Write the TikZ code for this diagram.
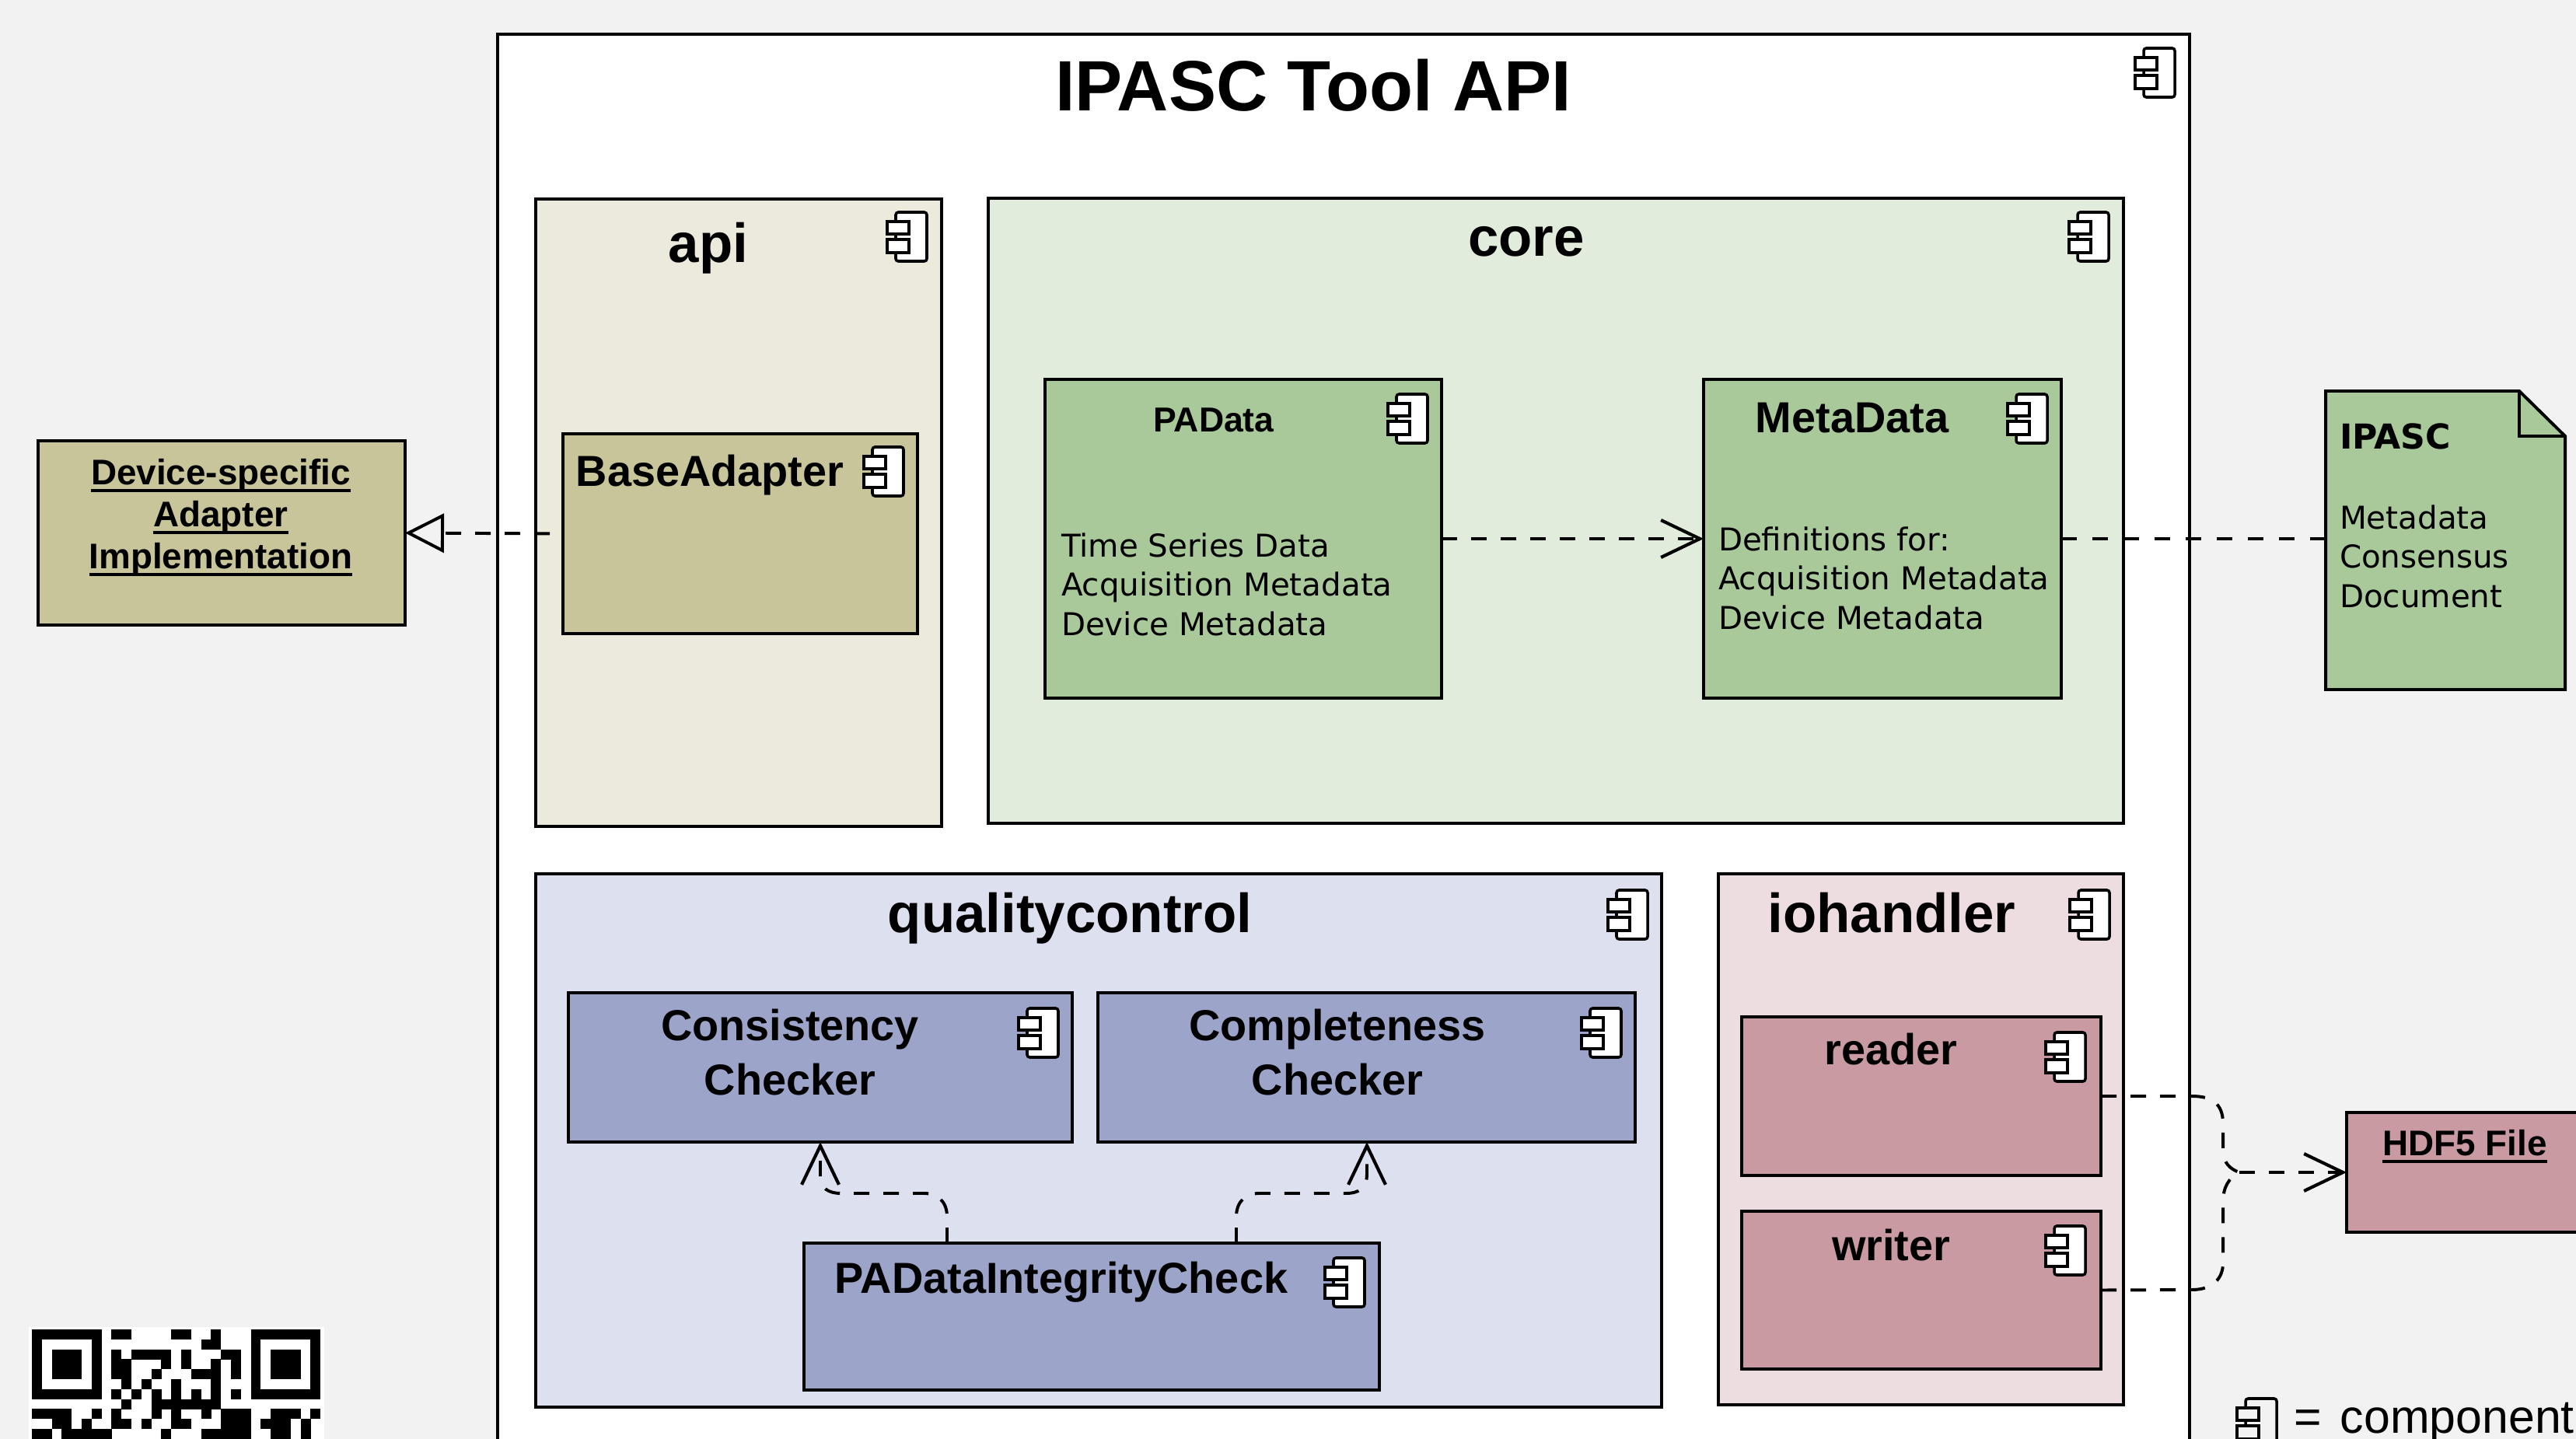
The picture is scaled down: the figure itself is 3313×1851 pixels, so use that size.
\documentclass[tikz,border=0pt]{standalone}
\usepackage{fontspec}
\setmainfont{Liberation Sans}
\newfontfamily\vfont{DejaVu Sans}
\usetikzlibrary{arrows.meta}
\definecolor{bgcol}{HTML}{F2F2F2}
\definecolor{apifill}{HTML}{ECEADC}
\definecolor{apiin}{HTML}{C9C59A}
\definecolor{corefill}{HTML}{E2ECDC}
\definecolor{corein}{HTML}{A9C99B}
\definecolor{qcfill}{HTML}{DDE0EE}
\definecolor{qcin}{HTML}{9CA4C9}
\definecolor{iofill}{HTML}{EDDCE0}
\definecolor{ioin}{HTML}{CA9AA2}
\newcommand\ulbox[1]{\setbox0\hbox{#1}\rlap{\rule[-2.5pt]{\wd0}{1pt}}\box0 }
\newcommand\stk[2]{\begin{tabular}[t]{@{}#1@{}}#2\end{tabular}}
\newcommand\cbox[6]{\node[boxbase,#1,anchor=north west,minimum width={(#5-#3)*.24pt},minimum height={(#6-#4)*.24pt}] (#2) at (#3,#4) {};}
\newcommand\icon[3][white]{\begin{scope}[shift={(#2,#3)}]
\draw[iconline,fill=#1,rounded corners=.8pt] (-40,0) rectangle (0,63);
\draw[iconline,fill=#1] (-51,12) rectangle (-23,28);
\draw[iconline,fill=#1] (-51,35) rectangle (-23,52);
\end{scope}}
\tikzset{
 boxbase/.style={draw=black,line width=.95pt,inner sep=0pt,outer sep=0pt},
 iconline/.style={draw=black,line width=.85pt},
 conn/.style={line width=.95pt,dash pattern=on 20*.24pt off 18*.24pt},
 barb/.style={-{Straight Barb[length=12pt,width=11.5pt,line width=1pt]}},
 lbl/.style={inner sep=0pt,outer sep=0pt,anchor=base,text=black},
 lblw/.style={lbl,anchor=base west},
 tmain/.style={lbl,font=\fontsize{22}{26}\selectfont\bfseries},
 tpkg/.style={lbl,font=\fontsize{17}{20}\selectfont\bfseries},
 tcomp/.style={lbl,font=\fontsize{13.4}{16.8}\selectfont\bfseries},
 tsmall/.style={lbl,font=\fontsize{10.7}{13}\selectfont\bfseries},
 tund/.style={lbl,font=\fontsize{11}{12.96}\selectfont\bfseries},
 tdesc/.style={lblw,font=\vfont\fontsize{9.7}{12.2}\selectfont},
}
\begin{document}
\begin{tikzpicture}[x=.24pt,y=-.24pt]
\useasboundingbox (0,0) rectangle (3313,1851);
\clip (0,0) rectangle (3313,1851);
\fill[bgcol] (0,0) rectangle (3313,1851);
% QR code
\fill[white] (37,1707) rectangle (417,1900);
\foreach \qx in {41,322.6}{
 \fill[black] (\qx,1710) rectangle ++(89.6,89.6);
 \fill[white] ({\qx+12.8},1722.8) rectangle ++(64,64);
 \fill[black] ({\qx+25.6},1735.6) rectangle ++(38.4,38.4);
}
\foreach \qr/\qcols in {0/{8,9,14,15,18},1/{17,18},2/{8,10,11,12,13,15,19,20},3/{8,9,13,15,18,20},4/{8,9,12,16,17,18,20},5/{9,11,14,18},6/{8,10,12,14,16,18,20},7/{9,12,13,14,15,16,17,18},8/{0,1,2,3,6,8,12,14,17,19,20,21,24,25,26,28},9/{2,3,5,8,9,11,14,15,19,20,21,23,24,25,27},10/{0,1,3,4,5,6,7,13,17,18,19,20,21,24,25,27}}{
 \foreach \qc in \qcols {\fill[black] ({41+12.8*\qc},{1710+12.8*\qr}) rectangle ++(12.9,12.9);}
}
% containers
\cbox{fill=white}{tool}{640}{44}{2816}{1900}
\node[tmain] (tooltitle) at (1689,142) {IPASC Tool API};
\icon{2797}{62}
\cbox{fill=apifill}{api}{689}{256}{1211}{1063}
\node[tpkg] (apititle) at (911,337) {api};
\icon{1192}{273}
\cbox{fill=corefill}{core}{1271}{255}{2731}{1059}
\node[tpkg] (coretitle) at (1963,329) {core};
\icon{2712}{273}
\cbox{fill=qcfill}{qc}{689}{1124}{2137}{1810}
\node[tpkg] (qctitle) at (1376,1199) {qualitycontrol};
\icon{2119}{1145}
\cbox{fill=iofill}{io}{2210}{1124}{2731}{1807}
\node[tpkg] (iotitle) at (2433,1199) {iohandler};
\icon{2713}{1145}
% inner components
\cbox{fill=apiin}{base}{724}{558}{1180}{815}
\node[tcomp] (basetitle) at (913,625) {BaseAdapter};
\icon{1162}{575}
\cbox{fill=corein}{pad}{1344}{488}{1854}{898}
\node[tsmall] (padtitle) at (1561,555) {PAData};
\node[tdesc] (padtext) at (1365,716) {\stk{l}{Time Series Data\\Acquisition Metadata\\Device Metadata}};
\icon{1836}{507}
\cbox{fill=corein}{meta}{2191}{488}{2651}{898}
\node[tcomp] (metatitle) at (2382,556) {MetaData};
\node[tdesc] (metatext) at (2210,708) {\stk{l}{Definitions for:\\Acquisition Metadata\\Device Metadata}};
\icon{2633}{507}
\cbox{fill=qcin}{cons}{731}{1277}{1379}{1469}
\node[tcomp] (constitle) at (1016,1338) {\stk{c}{Consistency\\Checker}};
\icon{1361}{1297}
\cbox{fill=qcin}{compl}{1412}{1277}{2103}{1469}
\node[tcomp] (compltitle) at (1720,1338) {\stk{c}{Completeness\\Checker}};
\icon{2085}{1297}
\cbox{fill=qcin}{integ}{1034}{1599}{1774}{1788}
\node[tcomp] (integtitle) at (1365,1663) {PADataIntegrityCheck};
\icon{1755}{1618}
\cbox{fill=ioin}{reader}{2240}{1308}{2702}{1512}
\node[tcomp] (readertitle) at (2432,1369) {reader};
\icon{2682}{1328}
\cbox{fill=ioin}{writer}{2240}{1558}{2702}{1761}
\node[tcomp] (writertitle) at (2432,1621) {writer};
\icon{2682}{1577}
% outside
\cbox{fill=apiin}{device}{49}{567}{521}{804}
\node[tund] (devicetitle) at (284,623) {\stk{c}{\ulbox{Device-specific}\\\ulbox{Adapter}\\\ulbox{Implementation}}};
\cbox{fill=ioin}{hdf}{3018}{1431}{3360}{1585}
\node[tund] (hdftitle) at (3170,1486) {\ulbox{HDF5 File}};
\node[inner sep=0pt,outer sep=0pt,anchor=north west,minimum width=73.92pt,minimum height=92.16pt] (ipasc) at (2991,503) {};
\draw[line width=.95pt,fill=corein,line join=miter] (2991,503) -- (3240,503) -- (3299,561) -- (3299,887) -- (2991,887) -- cycle;
\draw[line width=.95pt] (3240,503) -- (3240,561) -- (3299,561);
\node[lblw,font=\vfont\fontsize{10.6}{12}\selectfont\bfseries] (ipasctitle) at (3009,577) {IPASC};
\node[tdesc] (ipasctext) at (3009,680) {\stk{l}{Metadata\\Consensus\\Document}};
% legend
\icon[bgcol]{2928}{1799}
\node[lblw,font=\fontsize{14.6}{17}\selectfont] (legend) at (2950,1843) {=\hspace{.4em}component};
% connectors
\draw[conn,dash phase=21*.24pt,-{Triangle[open,length=12pt,width=12pt,fill=bgcol,line width=.95pt]}] (base.west) -- (device.east);
\draw[conn,barb] (pad.east) -- (meta.west);
\draw[conn,dash pattern=on 20*.24pt off 20*.24pt] (meta.east) -- (meta.east -| ipasc.west);
\coordinate (junc) at (2880,1508);
\draw[conn] (reader.east) -- (2819,1410) .. controls (2845,1410) and (2859,1420) .. (2859,1445) -- (2859,1480) .. controls (2859,1495) and (2868,1504) .. (junc);
\draw[conn] (writer.east) -- (2819,1659) .. controls (2845,1659) and (2859,1645) .. (2859,1625) -- (2859,1546) .. controls (2859,1528) and (2866,1515) .. (junc);
\draw[conn,barb] (junc) -- (hdf.west);
\draw[conn,barb] (integ.north -| 1218,1599) -- (1218,1565) .. controls (1218,1545) and (1205,1535) .. (1190,1535) -- (1081,1535) .. controls (1066,1535) and (1055,1528) .. (1055,1515) -- (cons.south -| 1055,1469);
\draw[conn,barb] (integ.north -| 1590,1599) -- (1590,1565) .. controls (1590,1545) and (1603,1535) .. (1618,1535) -- (1731,1535) .. controls (1748,1535) and (1758,1528) .. (1758,1510) -- (compl.south -| 1758,1469);
\end{tikzpicture}
\end{document}
